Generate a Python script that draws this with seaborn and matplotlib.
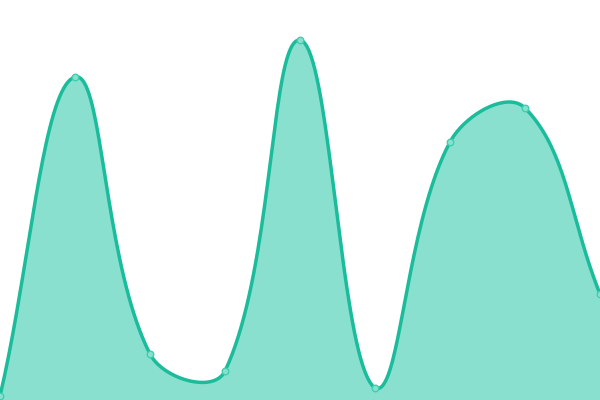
import numpy as np
import matplotlib
matplotlib.use("Agg")
import matplotlib.pyplot as plt
import seaborn as sns
import pandas as pd

# Data (value scale 0..400)
categories = list(range(9))
values = [4, 323, 46, 29, 360, 12, 258, 292, 106]

LINE = "#1abc9c"
FILL = "#8ae0cf"

sns.set_theme(style="white")

fig = plt.figure(figsize=(6, 4), dpi=100)
ax = fig.add_axes([0, 0, 1, 1])

# x positions spaced evenly over the plot width
xs = np.array(categories, dtype=float) * 75.0
ys = np.array(values, dtype=float)

# Chart.js-style bezier spline (tension 0.4)
def spline_path(x, y, t=0.4, steps=40):
    n = len(x)
    cp_prev = []
    cp_next = []
    for i in range(n):
        p0 = (x[max(i - 1, 0)], y[max(i - 1, 0)])
        p1 = (x[i], y[i])
        p2 = (x[min(i + 1, n - 1)], y[min(i + 1, n - 1)])
        d01 = np.hypot(p1[0] - p0[0], p1[1] - p0[1])
        d12 = np.hypot(p2[0] - p1[0], p2[1] - p1[1])
        tot = d01 + d12
        s01 = d01 / tot if tot else 0
        s12 = d12 / tot if tot else 0
        fa = t * s01
        fb = t * s12
        cp_prev.append((p1[0] - fa * (p2[0] - p0[0]), min(max(p1[1] - fa * (p2[1] - p0[1]), 0), 400)))
        cp_next.append((p1[0] + fb * (p2[0] - p0[0]), min(max(p1[1] + fb * (p2[1] - p0[1]), 0), 400)))
    px, py = [x[0]], [y[0]]
    tt = np.linspace(0, 1, steps)[1:]
    for i in range(n - 1):
        P0 = np.array([x[i], y[i]])
        P1 = np.array(cp_next[i])
        P2 = np.array(cp_prev[i + 1])
        P3 = np.array([x[i + 1], y[i + 1]])
        for u in tt:
            b = ((1 - u) ** 3) * P0 + 3 * ((1 - u) ** 2) * u * P1 + 3 * (1 - u) * u ** 2 * P2 + u ** 3 * P3
            px.append(b[0]); py.append(b[1])
    return np.array(px), np.array(py)

cx, cy = spline_path(xs, ys)
ax.fill_between(cx, cy, 0, color=FILL, linewidth=0, zorder=1)
sns.lineplot(x=cx, y=cy, ax=ax, color=LINE, linewidth=2.5, sort=False, zorder=2)

df = pd.DataFrame({"x": xs, "y": ys})
ax.scatter(df["x"], df["y"], s=22, facecolor=FILL, edgecolor="#3ecfaf", linewidth=1.0, zorder=3)

ax.set_xlim(0, 600)
ax.set_ylim(0, 400)
ax.axis("off")

fig.savefig("out.png", dpi=100, facecolor="white")
